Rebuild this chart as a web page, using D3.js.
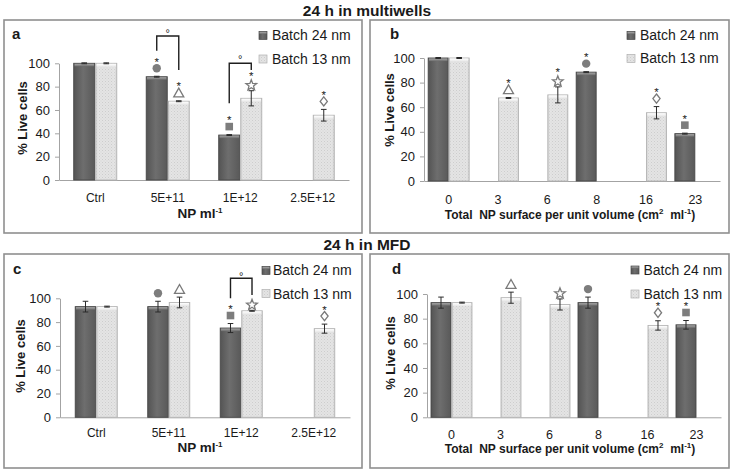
<!DOCTYPE html>
<html><head><meta charset="utf-8">
<script src="https://cdn.jsdelivr.net/npm/d3@7"></script>
<style>
body{margin:0;background:#fff}
svg{display:block}
text{font-family:"Liberation Sans",Arial,sans-serif;fill:#1a1a1a}
</style>
</head><body>
<svg id="chart" width="734" height="471"></svg>
<script>
// ---------- DATA ----------
const concCats = ["Ctrl", "5E+11", "1E+12", "2.5E+12"];
const surfCats = ["0", "3", "6", "8", "16", "23"];
const yTicks = [0, 20, 40, 60, 80, 100];
const seriesNames = ["Batch 24 nm", "Batch 13 nm"];
const sectionTitles = ["24 h in multiwells", "24 h in MFD"];

// 24 h in multiwells – by NP concentration
const mwConc24 = [100, 88.5, 38.5, null];
const mwConc24Err = [0.4, 0.4, 0.4, null];
const mwConc13 = [100, 67.5, 70, 55.5];
const mwConc13Err = [0.4, 0.4, 6.5, 5];
const mwConcSym24 = [null, "circle", "square", null];
const mwConcSym13 = [null, "triangle", "star", "diamond"];
const mwConcAst24 = [false, true, true, false];
const mwConcAst13 = [false, true, true, true];
const mwConcBrackets = [
  {cat: "5E+11", top: 123.4, left: 110.8, right: 94.3, mark: 128.5},
  {cat: "1E+12", top: 100, left: 65.7, right: 94.3, mark: 106}
];

// 24 h in multiwells – by NP surface
const mwSurf24 = [100, null, null, 88.5, null, 38.5];
const mwSurf24Err = [0.4, null, null, 0.4, null, 0.4];
const mwSurf13 = [100, 67.5, 70, null, 55.5, null];
const mwSurf13Err = [0.4, 0.4, 6.5, null, 5, null];
const mwSurfSym24 = [null, null, null, "circle", null, "square"];
const mwSurfSym13 = [null, "triangle", "star", null, "diamond", null];
const mwSurfAst24 = [false, false, false, true, false, true];
const mwSurfAst13 = [false, true, true, false, true, false];

// 24 h in MFD – by NP concentration
const mfdConc24 = [93, 93, 75, null];
const mfdConc24Err = [4.5, 4.5, 3.8, null];
const mfdConc13 = [93, 96.5, 89.5, 74.5];
const mfdConc13Err = [0.4, 4.5, 0.4, 3.8];
const mfdConcSym24 = [null, "circle", "square", null];
const mfdConcSym13 = [null, "triangle", "star", "diamond"];
const mfdConcAst24 = [false, false, true, false];
const mfdConcAst13 = [false, false, false, true];
const mfdConcBrackets = [
  {cat: "1E+12", top: 116.8, left: 100, right: 102.8, mark: 121}
];

// 24 h in MFD – by NP surface
const mfdSurf24 = [93, null, null, 93, null, 75];
const mfdSurf24Err = [4.5, null, null, 4.5, null, 3.5];
const mfdSurf13 = [93, 97, 91.5, null, 74.5, null];
const mfdSurf13Err = [0.4, 4.5, 4.5, null, 3.8, null];
const mfdSurfSym24 = [null, null, null, "circle", null, "square"];
const mfdSurfSym13 = [null, "triangle", "star", null, "diamond", null];
const mfdSurfAst24 = [false, false, false, false, false, true];
const mfdSurfAst13 = [false, false, false, false, true, false];

// ---------- LAYOUT ----------
const panels = [
  {letter: "a", cats: concCats, v24: mwConc24, e24: mwConc24Err, v13: mwConc13, e13: mwConc13Err,
   s24: mwConcSym24, s13: mwConcSym13, a24: mwConcAst24, a13: mwConcAst13, brackets: mwConcBrackets,
   frame: [4, 20, 358, 213], x0: 59, x1: 349, bottom: 180, top: 63.3, barFrac: 0.29,
   xTickFont: 12, xTickBase: 21.5, xTitle: "conc", xTitleX: 200, xTitleY: 218, xTitleFont: 13.5,
   yTitleX: 22, yTitleY: 118, legX: 259, legTextX: 272, legY: [35.5, 59], legBase: [40, 63.5],
   letterPos: [12, 38.5]},
  {letter: "b", cats: surfCats, v24: mwSurf24, e24: mwSurf24Err, v13: mwSurf13, e13: mwSurf13Err,
   s24: mwSurfSym24, s13: mwSurfSym13, a24: mwSurfAst24, a13: mwSurfAst13, brackets: [],
   frame: [370, 20, 359, 213], x0: 424, x1: 720, bottom: 181, top: 58, barFrac: 0.405,
   xTickFont: 12.5, xTickBase: 23, xTitle: "surf", xTitleX: 570, xTitleY: 218.5, xTitleFont: 12,
   yTitleX: 389, yTitleY: 110, legX: 627, legTextX: 640, legY: [35.5, 58.5], legBase: [40, 63],
   letterPos: [390, 38.5]},
  {letter: "c", cats: concCats, v24: mfdConc24, e24: mfdConc24Err, v13: mfdConc13, e13: mfdConc13Err,
   s24: mfdConcSym24, s13: mfdConcSym13, a24: mfdConcAst24, a13: mfdConcAst13, brackets: mfdConcBrackets,
   frame: [4, 254, 358, 214], x0: 60, x1: 350, bottom: 417.3, top: 298.3, barFrac: 0.283,
   xTickFont: 12, xTickBase: 19.5, xTitle: "conc", xTitleX: 200, xTitleY: 452, xTitleFont: 13.5,
   yTitleX: 20, yTitleY: 356, legX: 262, legTextX: 273, legY: [270.5, 293.5], legBase: [275, 298.5],
   letterPos: [13, 273.5]},
  {letter: "d", cats: surfCats, v24: mfdSurf24, e24: mfdSurf24Err, v13: mfdSurf13, e13: mfdSurf13Err,
   s24: mfdSurfSym24, s13: mfdSurfSym13, a24: mfdSurfAst24, a13: mfdSurfAst13, brackets: [],
   frame: [370, 254, 359, 214], x0: 427, x1: 721, bottom: 417.3, top: 294, barFrac: 0.408,
   xTickFont: 12.5, xTickBase: 22, xTitle: "surf", xTitleX: 570, xTitleY: 452.5, xTitleFont: 12,
   yTitleX: 390, yTitleY: 353, legX: 631, legTextX: 643.5, legY: [270, 294], legBase: [274.5, 298.5],
   letterPos: [392, 273.5]}
];

const svg = d3.select("#chart");
const defs = svg.append("defs");

const gDark = defs.append("linearGradient").attr("id", "gDark").attr("x1", 0).attr("x2", 1).attr("y1", 0).attr("y2", 0);
gDark.append("stop").attr("offset", "0%").attr("stop-color", "#545454");
gDark.append("stop").attr("offset", "45%").attr("stop-color", "#6e6e6e");
gDark.append("stop").attr("offset", "100%").attr("stop-color", "#595959");
const pat = defs.append("pattern").attr("id", "pLight").attr("patternUnits", "userSpaceOnUse").attr("width", 3).attr("height", 3);
pat.append("rect").attr("width", 3).attr("height", 3).attr("fill", "#e4e4e4");
pat.append("rect").attr("width", 1).attr("height", 1).attr("fill", "#cdcdcd");
pat.append("rect").attr("x", 1.5).attr("y", 1.5).attr("width", 1).attr("height", 1).attr("fill", "#d6d6d6");
const gLightEdge = defs.append("linearGradient").attr("id", "gLightEdge").attr("x1", 0).attr("x2", 1).attr("y1", 0).attr("y2", 0);
gLightEdge.append("stop").attr("offset", "0%").attr("stop-color", "#bdbdbd").attr("stop-opacity", 0.55);
gLightEdge.append("stop").attr("offset", "18%").attr("stop-color", "#ffffff").attr("stop-opacity", 0);
gLightEdge.append("stop").attr("offset", "82%").attr("stop-color", "#ffffff").attr("stop-opacity", 0);
gLightEdge.append("stop").attr("offset", "100%").attr("stop-color", "#bdbdbd").attr("stop-opacity", 0.55);
const capDark = defs.append("linearGradient").attr("id", "capDark").attr("x1", 0).attr("x2", 0).attr("y1", 0).attr("y2", 1);
capDark.append("stop").attr("offset", "0%").attr("stop-color", "#a8a8a8");
capDark.append("stop").attr("offset", "100%").attr("stop-color", "#6c6c6c");
const capLight = defs.append("linearGradient").attr("id", "capLight").attr("x1", 0).attr("x2", 0).attr("y1", 0).attr("y2", 1);
capLight.append("stop").attr("offset", "0%").attr("stop-color", "#ffffff");
capLight.append("stop").attr("offset", "100%").attr("stop-color", "#e6e6e6");

svg.append("text").attr("x", 367).attr("y", 15.5).attr("text-anchor", "middle")
  .style("font-size", "15.5px").style("font-weight", "bold").text(sectionTitles[0]);
svg.append("text").attr("x", 367).attr("y", 249.5).attr("text-anchor", "middle")
  .style("font-size", "15.5px").style("font-weight", "bold").text(sectionTitles[1]);

function symbolPath(type) {
  if (type === "circle") return d3.symbol(d3.symbolCircle, Math.PI * 4.2 * 4.2)();
  if (type === "square") return "M-3.8,-3.8H3.8V3.8H-3.8Z";
  if (type === "triangle") return "M0,-4.6L5,4.2H-5Z";
  if (type === "diamond") return "M0,-4.6L3.6,0L0,4.6L-3.6,0Z";
  if (type === "star") {
    let pts = [];
    for (let i = 0; i < 10; i++) {
      const r = i % 2 === 0 ? 5.6 : 2.4;
      const a = -Math.PI / 2 + i * Math.PI / 5;
      pts.push([r * Math.cos(a), r * Math.sin(a) + 0.6]);
    }
    return "M" + pts.map(p => p[0].toFixed(2) + "," + p[1].toFixed(2)).join("L") + "Z";
  }
}

function drawBar(g, x0, w, yTop, yBot, dark) {
  const h = yBot - yTop;
  if (dark) {
    g.append("rect").attr("x", x0).attr("y", yTop).attr("width", w).attr("height", h)
      .attr("fill", "url(#gDark)").attr("stroke", "#474747").attr("stroke-width", 0.9);
    g.append("rect").attr("x", x0 + 0.8).attr("y", yTop + 0.5).attr("width", w - 1.6).attr("height", 2.6)
      .attr("fill", "url(#capDark)");
  } else {
    g.append("rect").attr("x", x0).attr("y", yTop).attr("width", w).attr("height", h)
      .attr("fill", "url(#pLight)");
    g.append("rect").attr("x", x0).attr("y", yTop).attr("width", w).attr("height", h)
      .attr("fill", "url(#gLightEdge)").attr("stroke", "#b4b4b4").attr("stroke-width", 0.9);
    g.append("rect").attr("x", x0 + 0.8).attr("y", yTop + 0.5).attr("width", w - 1.6).attr("height", 3)
      .attr("fill", "url(#capLight)");
  }
}

function drawPanel(p) {
  const g = svg.append("g");
  const [fx, fy, fw, fh] = p.frame;
  g.append("rect").attr("x", fx).attr("y", fy).attr("width", fw).attr("height", fh)
    .attr("fill", "#fff").attr("stroke", "#8f8f8f").attr("stroke-width", 1.6);

  const x = d3.scaleBand().domain(p.cats).range([p.x0, p.x1]);
  const y = d3.scaleLinear().domain([0, 100]).range([p.bottom, p.top]);
  const w = x.bandwidth() * p.barFrac;
  const gap = 1;
  const center = c => x(c) + x.bandwidth() / 2;

  const ya = g.append("g").attr("transform", `translate(${p.x0},0)`)
    .call(d3.axisLeft(y).tickValues(yTicks).tickSize(4).tickSizeOuter(0).tickPadding(5));
  ya.select(".domain").attr("stroke", "#a3a3a3");
  ya.selectAll(".tick line").attr("stroke", "#a3a3a3");
  ya.selectAll(".tick text").style("font-size", "13px").style("font-family", '"Liberation Sans",Arial,sans-serif').attr("fill", "#1a1a1a");

  const xa = g.append("g").attr("transform", `translate(0,${p.bottom})`)
    .call(d3.axisBottom(x).tickSize(0).tickSizeOuter(0).tickPadding(0));
  xa.select(".domain").attr("stroke", "#a3a3a3");
  xa.selectAll(".tick text").attr("dy", null).attr("y", p.xTickBase)
    .style("font-size", p.xTickFont + "px").style("font-family", '"Liberation Sans",Arial,sans-serif').attr("fill", "#1a1a1a");

  const series = [
    {vals: p.v24, errs: p.e24, syms: p.s24, asts: p.a24, dark: true, off: c => center(c) - gap / 2 - w},
    {vals: p.v13, errs: p.e13, syms: p.s13, asts: p.a13, dark: false, off: c => center(c) + gap / 2}
  ];
  const barsG = g.append("g");
  const annG = g.append("g");
  series.forEach(s => {
    p.cats.forEach((c, i) => {
      const v = s.vals[i];
      if (v == null) return;
      const bx = s.off(c);
      drawBar(barsG, bx, w, y(v), y(0), s.dark);
      const e = s.errs[i] || 0;
      const cx = bx + w / 2;
      annG.append("path")
        .attr("d", `M${cx},${y(v + e)}V${y(v - e)}M${cx - 2.8},${y(v + e)}H${cx + 2.8}M${cx - 2.8},${y(v - e)}H${cx + 2.8}`)
        .attr("stroke", "#2a2a2a").attr("stroke-width", 1).attr("fill", "none");
      const errTop = y(v + e);
      const sym = s.syms[i];
      if (sym) {
        const off = sym === "star" ? 6 : 8;
        const filled = sym === "circle" || sym === "square";
        annG.append("path").attr("d", symbolPath(sym))
          .attr("transform", `translate(${cx},${errTop - off})`)
          .attr("fill", filled ? "#7d7d7d" : "#fff")
          .attr("stroke", filled ? "none" : "#7a7a7a").attr("stroke-width", 1.3);
      }
      if (s.asts[i]) {
        annG.append("text").attr("x", cx).attr("y", errTop - 17.5 + 7)
          .attr("text-anchor", "middle").style("font-size", "11.5px").attr("fill", "#3a3a3a").text("*");
      }
    });
  });

  p.brackets.forEach(b => {
    const lx = center(b.cat) - gap / 2 - w / 2;
    const rx = center(b.cat) + gap / 2 + w / 2;
    annG.append("path")
      .attr("d", `M${lx},${y(b.left)}V${y(b.top)}H${rx}V${y(b.right)}`)
      .attr("stroke", "#1e1e1e").attr("stroke-width", 1.4).attr("fill", "none");
    annG.append("text").attr("x", (lx + rx) / 2).attr("y", y(b.mark) + 7)
      .attr("text-anchor", "middle").style("font-size", "11px").text("°");
  });

  g.append("text").attr("transform", `translate(${p.yTitleX},${p.yTitleY}) rotate(-90)`)
    .attr("text-anchor", "middle").attr("dy", "0.35em")
    .style("font-size", "13px").style("font-weight", "bold").text("% Live cells");

  const xt = g.append("text").attr("x", p.xTitleX).attr("y", p.xTitleY).attr("text-anchor", "middle")
    .style("font-size", p.xTitleFont + "px").style("font-weight", "bold").style("white-space", "pre");
  if (p.xTitle === "conc") {
    xt.append("tspan").text("NP ml");
    xt.append("tspan").attr("dy", -5).style("font-size", "8px").text("-1");
  } else {
    xt.append("tspan").text("Total  NP surface per unit volume (cm");
    xt.append("tspan").attr("dy", -5).style("font-size", "8px").text("2");
    xt.append("tspan").attr("dy", 5).text("  ml");
    xt.append("tspan").attr("dy", -5).style("font-size", "8px").text("-1");
    xt.append("tspan").attr("dy", 5).text(")");
  }

  g.append("text").attr("x", p.letterPos[0]).attr("y", p.letterPos[1])
    .style("font-size", "15px").style("font-weight", "bold").text(p.letter);

  seriesNames.forEach((n, i) => {
    const sy = p.legY[i] - 4;
    if (i === 0) {
      g.append("rect").attr("x", p.legX).attr("y", sy).attr("width", 8).attr("height", 8)
        .attr("fill", "url(#gDark)").attr("stroke", "#4a4a4a").attr("stroke-width", 0.7);
      g.append("rect").attr("x", p.legX + 0.5).attr("y", sy + 0.5).attr("width", 7).attr("height", 2)
        .attr("fill", "url(#capDark)");
    } else {
      g.append("rect").attr("x", p.legX).attr("y", sy).attr("width", 8).attr("height", 8)
        .attr("fill", "url(#pLight)").attr("stroke", "#b0b0b0").attr("stroke-width", 0.7);
    }
    g.append("text").attr("x", p.legTextX).attr("y", p.legBase[i])
      .style("font-size", "14px").text(n);
  });
}

panels.forEach(drawPanel);
</script>
</body></html>
